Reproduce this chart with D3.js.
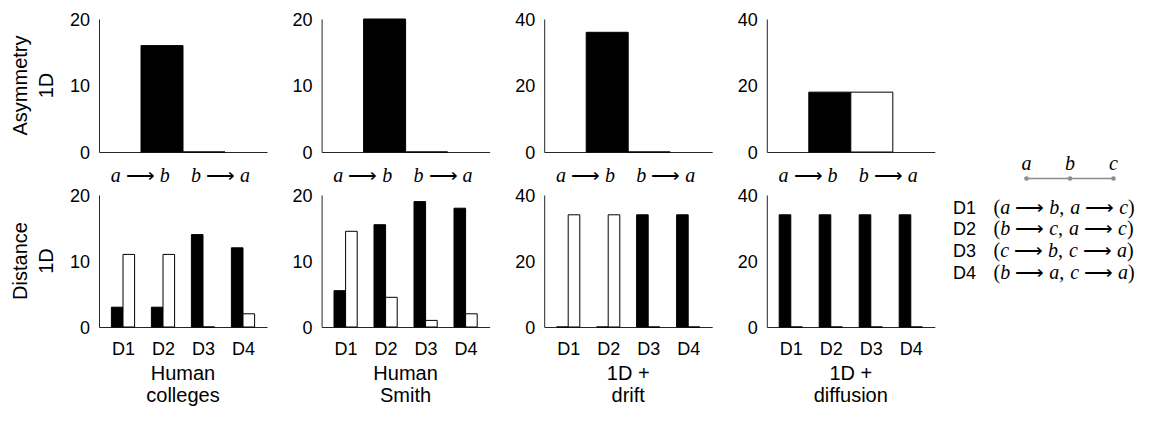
<!DOCTYPE html>
<html>
<head>
<meta charset="utf-8">
<script src="https://cdn.jsdelivr.net/npm/d3@7"></script>
<style>
  body { margin: 0; background: #fff; }
  svg { display: block; }
  .sans { font-family: "Liberation Sans", Arial, sans-serif; font-size: 18px; }
  .label { font-family: "Liberation Sans", Arial, sans-serif; font-size: 20px; }
  .math { font-family: "Liberation Serif", "Times New Roman", serif; font-size: 20px; }
  .arrow { font-family: "DejaVu Sans", sans-serif; font-weight: 300; }
</style>
</head>
<body>
<script>
// panel titles (bottom row, two lines each)
const titles = [["Human", "colleges"], ["Human", "Smith"], ["1D +", "drift"], ["1D +", "diffusion"]];

// top row: asymmetry
const asymLabels = ["a → b", "b → a"];
const asymForward = [16, 20, 36, 18];
const asymBackward = [0, 0, 0, 18];
const asymMax = [20, 20, 40, 40];

// bottom row: distance
const distLabels = ["D1", "D2", "D3", "D4"];
const distFirst = [[3, 3, 14, 12], [5.5, 15.5, 19, 18], [0, 0, 34, 34], [34, 34, 34, 34]];
const distSecond = [[11, 11, 0, 2], [14.5, 4.5, 1, 2], [34, 34, 0, 0], [0, 0, 0, 0]];
const distMax = [20, 20, 40, 40];

// legend
const legendNodes = ["a", "b", "c"];
const legendRows = [
  ["D1", "(a → b, a → c)"],
  ["D2", "(b → c, a → c)"],
  ["D3", "(c → b, c → a)"],
  ["D4", "(b → a, c → a)"]
];

const width = 1151, height = 423;
const axisColor = "#262626";
const panelLeft = 99, panelStep = 222.6, panelW = 168;
const rows = [{top: 19, base: 152}, {top: 195, base: 327}];

const svg = d3.select("body").append("svg")
    .attr("width", width)
    .attr("height", height);

// write a tex-ish string: letters italic, long arrows with relation spacing
function mathText(sel, str) {
  sel.text(null);
  let gap = 0;
  str.split(/( → )/).forEach(part => {
    if (part === " → ") {
      sel.append("tspan").attr("class", "arrow").attr("dx", 5).text("⟶");
      gap = 5;
      return;
    }
    part.split("").forEach(ch => {
      if (ch === " ") { gap += 6; return; }
      sel.append("tspan")
        .attr("font-style", /[a-z]/.test(ch) ? "italic" : "normal")
        .attr("dx", gap || null)
        .text(ch);
      gap = 0;
    });
  });
}

function barPath(x0, x1, y0, y1) {
  return `M${x0},${y0}H${x1}V${y1}H${x0}Z`;
}

function styleAxis(g) {
  g.select(".domain").attr("stroke", axisColor);
  g.selectAll("text").attr("fill", "#000");
}

function yAxis(g, y, max) {
  g.call(d3.axisLeft(y)
      .tickValues([0, max / 2, max])
      .tickSizeInner(0)
      .tickSizeOuter(0)
      .tickPadding(9))
    .attr("font-family", null).attr("font-size", null)
    .classed("sans", true)
    .call(styleAxis);
  g.selectAll(".tick text").attr("dy", "0.36em");
}

d3.range(4).forEach(p => {
  const left = panelLeft + p * panelStep;

  // ---- asymmetry panel
  let r = rows[0];
  let x = d3.scaleLinear().domain([0, 4]).range([left, left + panelW]);
  let y = d3.scaleLinear().domain([0, asymMax[p]]).range([r.base, r.top]);
  let g = svg.append("g");

  g.append("g").attr("transform", `translate(${left},0)`).call(yAxis, y, asymMax[p]);

  let xa = g.append("g").attr("transform", `translate(0,${r.base})`)
    .call(d3.axisBottom(x)
      .tickValues([0.97, 2.88])
      .tickFormat((d, i) => asymLabels[i])
      .tickSizeInner(0)
      .tickSizeOuter(0)
      .tickPadding(16))
    .attr("font-family", null).attr("font-size", null)
    .call(styleAxis);
  xa.selectAll(".tick text")
    .classed("math", true)
    .each(function(d, i) { mathText(d3.select(this), asymLabels[i]); });

  const asymBars = [
    {x0: 1, x1: 2, v: asymForward[p], fill: "#000"},
    {x0: 2, x1: 3, v: asymBackward[p], fill: "#fff"}
  ];
  g.append("g").selectAll("path")
    .data(asymBars)
    .join("path")
    .attr("d", d => barPath(x(d.x0), x(d.x1), y(0), y(d.v)))
    .attr("fill", d => d.fill)
    .attr("stroke", "#000")
    .attr("stroke-width", 1);

  // ---- distance panel
  r = rows[1];
  x = d3.scaleLinear().domain([0.4, 4.6]).range([left, left + panelW]);
  y = d3.scaleLinear().domain([0, distMax[p]]).range([r.base, r.top]);
  g = svg.append("g");

  g.append("g").attr("transform", `translate(${left},0)`).call(yAxis, y, distMax[p]);

  g.append("g").attr("transform", `translate(0,${r.base})`)
    .call(d3.axisBottom(x)
      .tickValues([1, 2, 3, 4])
      .tickFormat(d => distLabels[d - 1])
      .tickSizeInner(0)
      .tickSizeOuter(0)
      .tickPadding(15))
    .attr("font-family", null).attr("font-size", null)
    .classed("sans", true)
    .call(styleAxis);

  const bw = 0.29;
  const distBars = [];
  distLabels.forEach((lab, i) => {
    distBars.push({x0: i + 1 - bw, x1: i + 1, v: distFirst[p][i], fill: "#000"});
    distBars.push({x0: i + 1, x1: i + 1 + bw, v: distSecond[p][i], fill: "#fff"});
  });
  g.append("g").selectAll("path")
    .data(distBars)
    .join("path")
    .attr("d", d => barPath(x(d.x0), x(d.x1), y(0), y(d.v)))
    .attr("fill", d => d.fill)
    .attr("stroke", "#000")
    .attr("stroke-width", 1);

  // panel title under the bottom row
  g.append("text")
    .attr("class", "label")
    .attr("text-anchor", "middle")
    .attr("x", left + panelW / 2)
    .attr("y", 380)
    .selectAll("tspan")
    .data(titles[p])
    .join("tspan")
    .attr("x", left + panelW / 2)
    .attr("dy", (d, i) => i === 0 ? 0 : 22)
    .text(d => d);
});

// row labels
[["Asymmetry", "1D"], ["Distance", "1D"]].forEach((lines, i) => {
  const cy = (rows[i].top + rows[i].base) / 2;
  lines.forEach((t, j) => {
    const bx = j === 0 ? 27 : 53;
    svg.append("text")
      .attr("class", "label")
      .attr("text-anchor", "middle")
      .attr("transform", `translate(${bx},${cy}) rotate(-90)`)
      .text(t);
  });
});

// legend: a - b - c chain
const lx = d3.scalePoint().domain(legendNodes).range([1026.5, 1113.5]);
const leg = svg.append("g");
leg.append("line")
  .attr("x1", lx("a")).attr("x2", lx("c"))
  .attr("y1", 178.5).attr("y2", 178.5)
  .attr("stroke", "#8c8c8c")
  .attr("stroke-width", 1.5);
leg.selectAll("circle")
  .data(legendNodes)
  .join("circle")
  .attr("cx", d => lx(d))
  .attr("cy", 178.5)
  .attr("r", 2.3)
  .attr("fill", "#8c8c8c");
leg.selectAll("text.node")
  .data(legendNodes)
  .join("text")
  .attr("class", "node math")
  .attr("text-anchor", "middle")
  .attr("font-style", "italic")
  .attr("x", d => lx(d))
  .attr("y", 170)
  .text(d => d);

const rowY = d3.scaleLinear().domain([0, 3]).range([213.5, 278.5]);
legendRows.forEach((row, i) => {
  leg.append("text")
    .attr("class", "sans")
    .attr("x", 953)
    .attr("y", rowY(i))
    .text(row[0]);
  leg.append("text")
    .attr("class", "math")
    .attr("x", 993.5)
    .attr("y", rowY(i))
    .call(mathText, row[1]);
});
</script>
</body>
</html>
